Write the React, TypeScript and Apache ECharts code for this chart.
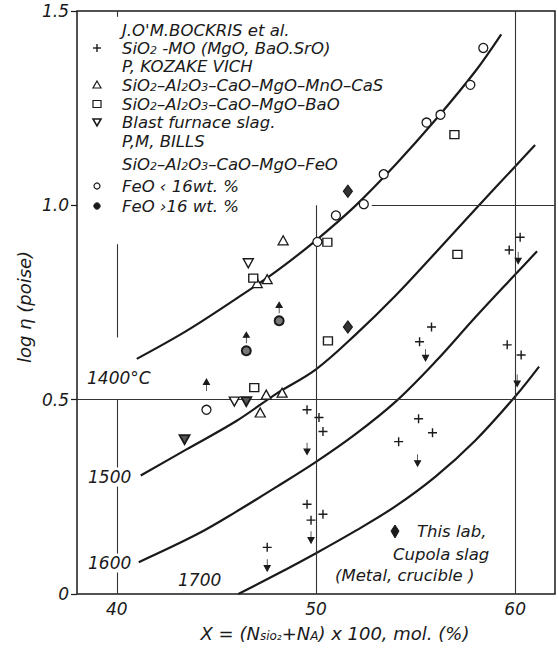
import { useEffect, useRef } from 'react';
import * as echarts from 'echarts';

// ---------- data ----------
const xTickLabels = [40, 50, 60];
const yTickLabels = ['0', '0.5', '1.0', '1.5'];

const curve1400 = [[41, 0.605], [43.5, 0.677], [46, 0.76], [48, 0.83], [50, 0.91], [52, 1.0], [54, 1.105], [56, 1.22], [58, 1.345], [59.3, 1.44]];
const curve1500 = [[41.2, 0.305], [43.5, 0.372], [46, 0.445], [48, 0.515], [50, 0.578], [52, 0.668], [54, 0.768], [56, 0.878], [58, 0.99], [60, 1.1], [61, 1.155]];
const curve1600 = [[41.1, 0.082], [44, 0.153], [46, 0.212], [48, 0.275], [50, 0.34], [52, 0.412], [54, 0.495], [56, 0.598], [58, 0.712], [60, 0.822], [61.1, 0.882]];
const curve1700 = [[46.1, 0.0], [48, 0.05], [50, 0.105], [52, 0.163], [54, 0.226], [56, 0.302], [58, 0.395], [60, 0.508], [61.2, 0.585]];

const curveLabels = ['1400°C', '1500', '1600', '1700'];

const plusPts = [[49.55, 0.474], [50.15, 0.454], [50.35, 0.418], [55.15, 0.451], [55.85, 0.415], [54.15, 0.392], [49.55, 0.231], [49.75, 0.19], [50.35, 0.205], [47.55, 0.12], [60.25, 0.918], [59.7, 0.885], [59.6, 0.641], [60.3, 0.615], [55.8, 0.687], [55.2, 0.649]];
const downArrowPts = [[49.55, 0.374], [55.1, 0.344], [49.75, 0.146], [47.55, 0.074], [60.15, 0.865], [60.1, 0.549], [55.5, 0.615]];
const upArrowPts = [[44.5, 0.538]];
const trianglePts = [[48.35, 0.91], [47.05, 0.8], [47.55, 0.81], [47.5, 0.513], [48.3, 0.518], [47.2, 0.467]];
const squarePts = [[46.85, 0.813], [50.57, 0.905], [50.6, 0.651], [46.9, 0.531], [56.95, 1.182], [57.1, 0.874]];
const blastOpenPts = [[46.6, 0.851], [45.9, 0.495]];
const blastFilledPts = [[46.5, 0.495], [43.4, 0.397]];
const feoLowPts = [[50.07, 0.906], [51.0, 0.974], [52.4, 1.003], [53.4, 1.08], [55.55, 1.213], [56.25, 1.233], [57.75, 1.31], [58.4, 1.405], [44.5, 0.474]];
const feoHighPts = [[48.15, 0.703], [46.5, 0.626]];
const thisLabPts = [[51.6, 1.036], [51.6, 0.687]];

// reference lines (data coordinates)
const refSegments = [
  [[40, 0], [40, 0.5]],
  [[40, 0.66], [40, 0.9]],
  [[40, 1.5], [40, 1.485]],
  [[50, 0], [50, 1.0]],
  [[60, 0], [60, 1.5]],
  [[38, 0.5], [62, 0.5]],
  [[52.8, 1.0], [62, 1.0]],
];

const legendRows = [
  { sym: '', text: "J.O'M.BOCKRIS et al." },
  { sym: 'plus', text: 'SiO{s|2} -MO (MgO, BaO.SrO)' },
  { sym: '', text: 'P, KOZAKE VICH' },
  { sym: 'tri', text: 'SiO{s|2}–Al{s|2}O{s|3}–CaO–MgO–MnO–CaS' },
  { sym: 'sq', text: 'SiO{s|2}–Al{s|2}O{s|3}–CaO–MgO–BaO' },
  { sym: 'inv', text: 'Blast furnace slag.' },
  { sym: '', text: 'P,M, BILLS' },
  { sym: '', text: 'SiO{s|2}–Al{s|2}O{s|3}–CaO–MgO–FeO' },
  { sym: 'circ', text: 'FeO ‹ 16wt. %' },
  { sym: 'dot', text: 'FeO ›16 wt. %' },
];
const legendY = [30, 48, 66, 85, 104, 122, 141, 164, 186, 206];

const thisLabText = ['This lab,', 'Cupola slag', '(Metal, crucible )'];

// ---------- styles ----------
const FONT = 'DejaVu Sans';
const INK = '#1a1a1a';

const plusSym = 'path://M0,5L10,5M5,0L5,10';
const downSym = 'path://M5,0L5,7M2.6,6L5,11L7.4,6Z';
const upSym = 'path://M5,11L5,4M2.6,5L5,0L7.4,5Z';
const invTriSym = 'path://M0,0L10,0L5,9Z';

function legendSymbol(kind: string, x: number, y: number): any[] {
  const st = { stroke: INK, lineWidth: 1.2, fill: '#fff' };
  switch (kind) {
    case 'plus':
      return [
        { type: 'line', shape: { x1: x - 4, y1: y, x2: x + 4, y2: y }, style: { stroke: INK, lineWidth: 1.4 } },
        { type: 'line', shape: { x1: x, y1: y - 4, x2: x, y2: y + 4 }, style: { stroke: INK, lineWidth: 1.4 } },
      ];
    case 'tri':
      return [{ type: 'polygon', shape: { points: [[x, y - 4], [x + 4, y + 3], [x - 4, y + 3]] }, style: st }];
    case 'sq':
      return [{ type: 'rect', shape: { x: x - 4, y: y - 3.5, width: 8, height: 7 }, style: st }];
    case 'inv':
      return [{ type: 'polygon', shape: { points: [[x - 4, y - 3], [x + 4, y - 3], [x, y + 4]] }, style: { ...st, lineWidth: 1.6 } }];
    case 'circ':
      return [{ type: 'circle', shape: { cx: x, cy: y, r: 3 }, style: st }];
    case 'dot':
      return [{ type: 'circle', shape: { cx: x, cy: y, r: 3.2 }, style: { fill: INK, stroke: INK, lineWidth: 1 } }];
    default:
      return [];
  }
}

function buildOption(): any {
  const textStyleBase = { fontFamily: FONT, fontStyle: 'italic', fill: INK };
  const subRich = { s: { fontFamily: FONT, fontStyle: 'italic', fontSize: 11, lineHeight: 11, verticalAlign: 'bottom', fill: INK, padding: [4, 0, 0, 0] } };
  const graphics: any[] = [];

  legendRows.forEach((row, i) => {
    const y = legendY[i];
    graphics.push(...legendSymbol(row.sym, 97, y));
    graphics.push({
      type: 'text', x: 122, y, z: 50,
      style: { ...textStyleBase, text: row.text, fontSize: 16.5, lineHeight: 16, verticalAlign: 'middle', align: 'left', rich: subRich },
    });
  });

  // isotherm labels
  const curveLabelPos = [[86, 378], [87, 477], [87, 563], [177, 580]];
  curveLabels.forEach((t, i) => {
    graphics.push({
      type: 'text', x: curveLabelPos[i][0], y: curveLabelPos[i][1], z: 60,
      style: { ...textStyleBase, text: t, fontSize: 17, verticalAlign: 'middle', align: 'left', backgroundColor: '#fff', padding: [1, 1] },
    });
  });

  // "This lab" note
  graphics.push({
    type: 'polygon', z: 60,
    shape: { points: [[395, 525], [399, 531], [395, 538], [391, 531]] },
    style: { fill: INK, stroke: INK, lineWidth: 1 },
  });
  const noteX = [417, 393, 335];
  const noteY = [531, 554, 575];
  thisLabText.forEach((t, i) => {
    graphics.push({
      type: 'text', x: noteX[i], y: noteY[i], z: 60,
      style: { ...textStyleBase, text: t, fontSize: 16.5, verticalAlign: 'middle', align: 'left' },
    });
  });

  // y axis title
  graphics.push({
    type: 'text', x: 24, y: 307, rotation: Math.PI / 2, z: 60,
    style: { ...textStyleBase, text: 'log η (poise)', fontSize: 18, verticalAlign: 'middle', align: 'center' },
  });
  // x axis title
  graphics.push({
    type: 'text', x: 335, y: 633, z: 60,
    style: {
      ...textStyleBase,
      text: 'X = (N{s|sio₂}+N{s|A}) x 100, mol. (%)',
      fontSize: 18, lineHeight: 18, verticalAlign: 'middle', align: 'center',
      rich: { s: { fontFamily: FONT, fontStyle: 'italic', fontSize: 12, lineHeight: 12, verticalAlign: 'bottom', fill: INK, padding: [4, 0, 0, 0] } },
    },
  });

  const curveSeries = [curve1400, curve1500, curve1600, curve1700].map((d, i) => ({
    type: 'line', name: curveLabels[i], data: d, smooth: 0.35, symbol: 'none', z: 2,
    lineStyle: { color: INK, width: 2.2 },
  }));

  const scatter = (name: string, data: number[][], symbol: string, size: any, fill: string, bw = 1.2, extra: any = {}) => ({
    type: 'scatter', name, data, symbol, symbolSize: size, z: 5,
    itemStyle: { color: fill, borderColor: INK, borderWidth: bw, opacity: 1 },
    ...extra,
  });

  return {
    animation: false,
    backgroundColor: '#fff',
    grid: { left: 77, right: 2, top: 11, bottom: 54, show: true, borderColor: INK, borderWidth: 1.5, backgroundColor: 'transparent' },
    xAxis: {
      type: 'value', min: 38, max: 62, interval: 2,
      axisLine: { show: false }, axisTick: { show: false }, splitLine: { show: false },
      axisLabel: {
        margin: 6, fontSize: 17, fontStyle: 'italic', fontFamily: FONT, color: INK,
        formatter: (v: number) => (xTickLabels.includes(Math.round(v)) ? String(Math.round(v)) : ''),
      },
    },
    yAxis: {
      type: 'value', min: 0, max: 1.5, interval: 0.5,
      axisLine: { show: false }, splitLine: { show: false },
      axisTick: { show: true, length: 6, lineStyle: { color: INK, width: 1.2 } },
      axisLabel: {
        margin: 8, fontSize: 17, fontStyle: 'italic', fontFamily: FONT, color: INK, padding: [8, 0, 0, 0],
        formatter: (v: number) => yTickLabels[Math.round(v / 0.5)],
      },
    },
    graphic: { elements: graphics },
    series: [
      {
        type: 'scatter', name: 'ref', data: [], z: 1, silent: true,
        markLine: {
          silent: true, symbol: 'none', animation: false, label: { show: false },
          lineStyle: { color: '#333', width: 1.1, type: 'solid' },
          data: refSegments.map((s) => [{ coord: s[0] }, { coord: s[1] }]),
        },
      },
      ...curveSeries,
      scatter('SiO2-MO', plusPts, plusSym, 9, 'none', 1.4),
      scatter('down', downArrowPts, downSym, [6, 12], INK, 1),
      scatter('up', upArrowPts, upSym, [6, 12], INK, 1),
      scatter('Kozakevich CaS', trianglePts, 'triangle', [10, 9], '#fff', 1.3),
      scatter('Kozakevich BaO', squarePts, 'rect', [9, 8], '#fff', 1.3),
      scatter('Blast furnace', blastOpenPts, invTriSym, [10, 9], '#fff', 1.4),
      scatter('Blast furnace filled', blastFilledPts, invTriSym, [10, 9], '#555', 1.8),
      scatter('FeO<16', feoLowPts, 'circle', 9, '#fff', 1.3),
      scatter('FeO>16', feoHighPts, 'circle', 9, '#777', 2),
      scatter('FeO>16 arrow', feoHighPts, upSym, [6, 11], INK, 1, { symbolOffset: [0, -13] }),
      scatter('This lab', thisLabPts, 'diamond', [9, 12], '#333', 1.2),
    ],
  };
}

export default function App() {
  const ref = useRef<HTMLDivElement>(null);
  useEffect(() => {
    const chart = echarts.init(ref.current!, null, { renderer: 'svg' });
    chart.setOption(buildOption());
    return () => chart.dispose();
  }, []);
  return (
    <div
      ref={ref}
      style={{ position: 'absolute', left: 0, top: 0, width: 558, height: 648, background: '#fff' }}
    />
  );
}
